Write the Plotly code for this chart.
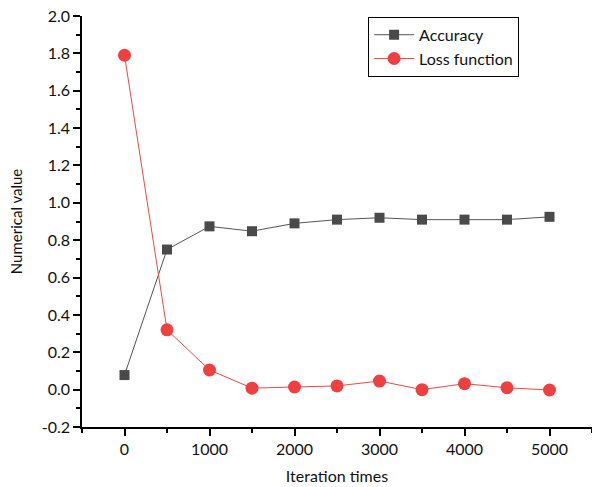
import plotly.graph_objects as go

iterations = [0, 500, 1000, 1500, 2000, 2500, 3000, 3500, 4000, 4500, 5000]
accuracy = [0.078, 0.75, 0.874, 0.848, 0.89, 0.91, 0.92, 0.91, 0.91, 0.91, 0.925]
loss = [1.79, 0.32, 0.105, 0.008, 0.014, 0.02, 0.046, 0.0, 0.032, 0.01, -0.002]

y_ticks = [-0.2, 0.0, 0.2, 0.4, 0.6, 0.8, 1.0, 1.2, 1.4, 1.6, 1.8, 2.0]
y_ticktext = [f"{v:.1f}" for v in y_ticks]
x_ticks = [0, 1000, 2000, 3000, 4000, 5000]

FONT = "Lato"

fig = go.Figure()
fig.add_trace(go.Scatter(
    x=iterations, y=accuracy, name="Accuracy", mode="lines+markers",
    line=dict(color="#555555", width=1),
    marker=dict(symbol="square", size=10, color="#4a4a4a"),
))
fig.add_trace(go.Scatter(
    x=iterations, y=loss, name="Loss function", mode="lines+markers",
    line=dict(color="#f04848", width=1),
    marker=dict(symbol="circle", size=13, color="#ef4040"),
))

fig.update_layout(
    width=592, height=487,
    margin=dict(l=82, r=0, t=16, b=60, autoexpand=False),
    paper_bgcolor="white", plot_bgcolor="white",
    font=dict(family=FONT, size=16, color="#111111"),
    showlegend=True,
    hovermode=False,
    legend=dict(
        x=0.561, y=0.998, xanchor="left", yanchor="top",
        bordercolor="black", borderwidth=1, bgcolor="white",
        font=dict(family=FONT, size=16),
        itemwidth=40,
        tracegroupgap=2,
    ),
    xaxis=dict(
        range=[-500, 5500], tickvals=x_ticks, automargin=False,
        ticks="outside", ticklen=7, tickwidth=1.5, tickcolor="black",
        showline=True, linecolor="black", linewidth=1.5,
        showgrid=False, zeroline=False,
        minor=dict(ticks="outside", tickvals=[-500, 500, 1500, 2500, 3500, 4500, 5500],
                   ticklen=4, tickwidth=1.5, tickcolor="black"),
        title=dict(text="Iteration times", font=dict(size=16), standoff=14),
        tickfont=dict(size=16),
    ),
    yaxis=dict(
        range=[-0.2, 2.0], tickvals=y_ticks, ticktext=y_ticktext, automargin=False,
        ticks="outside", ticklen=7, tickwidth=1.5, tickcolor="black",
        showline=True, linecolor="black", linewidth=1.5,
        showgrid=False, zeroline=False,
        minor=dict(ticks="outside", dtick=0.1, ticklen=4, tickwidth=1.5, tickcolor="black"),
        title=dict(text="Numerical value", font=dict(size=15), standoff=16),
        tickfont=dict(size=16),
    ),
)

fig.write_html("out.html", config={"displayModeBar": False},
               post_script="document.body.style.margin='0';")
